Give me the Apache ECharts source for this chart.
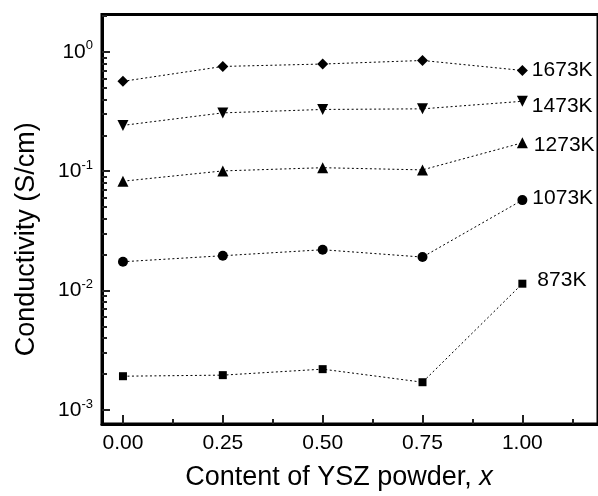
<!DOCTYPE html>
<html>
<head>
<meta charset="utf-8">
<script src="https://cdn.jsdelivr.net/npm/echarts@6/dist/echarts.min.js"></script>
<style>html,body{margin:0;padding:0;background:#fff;}#c{width:598px;height:496px;}</style>
</head>
<body>
<div id="c"></div>
<script>
// ---- data ----
const xValues = [0.00, 0.25, 0.50, 0.75, 1.00];
const s1673 = [0.566, 0.754, 0.790, 0.846, 0.698];
const s1473 = [0.242, 0.308, 0.329, 0.333, 0.385];
const s1273 = [0.0825, 0.1006, 0.107, 0.1026, 0.173];
const s1073 = [0.01746, 0.0196, 0.0220, 0.0191, 0.0573];
const s873 = [0.00192, 0.00196, 0.00220, 0.00171, 0.01143];
const seriesNames = ['1673K', '1473K', '1273K', '1073K', '873K'];
const xMajorTicks = [0, 0.25, 0.5, 0.75, 1.0];
const xMinorTicks = [0.125, 0.375, 0.625, 0.875, 1.125];
const yMajorTicks = [0.001, 0.01, 0.1, 1];
const yMinorTicks = [0.002, 0.003, 0.004, 0.005, 0.006, 0.007, 0.008, 0.009,
  0.02, 0.03, 0.04, 0.05, 0.06, 0.07, 0.08, 0.09,
  0.2, 0.3, 0.4, 0.5, 0.6, 0.7, 0.8, 0.9, 2];

// ---- styles ----
const FONT = 'Liberation Sans, Arial, sans-serif';
const TICK = '#222';
const styles = [
  { symbol: 'diamond', size: 11, rotate: 0, off: [0, 0] },
  { symbol: 'triangle', size: 11, rotate: 180, off: [0, 5] },
  { symbol: 'triangle', size: 11, rotate: 0, off: [2, 2] },
  { symbol: 'circle', size: 10, rotate: 0, off: [1, -2] },
  { symbol: 'rect', size: 8, rotate: 0, off: [7, -3] }
];
const allData = [s1673, s1473, s1273, s1073, s873];

const chart = echarts.init(document.getElementById('c'), null, { renderer: 'canvas' });
const X_MIN = -0.0525, X_MAX = 1.1894;
const Y_MIN = 7.64e-4, Y_MAX = 2.053;

const series = allData.map((vals, si) => ({
  name: seriesNames[si],
  type: 'line',
  xAxisIndex: 0,
  yAxisIndex: 0,
  symbol: styles[si].symbol,
  symbolSize: styles[si].size,
  symbolRotate: styles[si].rotate,
  itemStyle: { color: '#000' },
  lineStyle: { color: '#000', width: 1, type: [2, 2.5] },
  data: vals.map((v, i) => {
    const item = { value: [xValues[i], v] };
    if (i === vals.length - 1) {
      item.label = {
        show: true, position: 'right', distance: 4,
        formatter: seriesNames[si],
        color: '#000', fontSize: 21, fontFamily: FONT,
        offset: styles[si].off
      };
    }
    return item;
  })
}));

const supFmt = v => {
  const e = Math.round(Math.log10(v));
  return '{b|10}{s|' + (e < 0 ? '-' + (-e) : e) + '}';
};

chart.setOption({
  backgroundColor: '#fff',
  animation: false,
  grid: { left: 102, right: -2, top: 14.5, bottom: 70, show: true, borderColor: '#000', borderWidth: 3, backgroundColor: 'transparent' },
  xAxis: [
    {
      type: 'value', position: 'bottom', min: X_MIN, max: X_MAX,
      splitLine: { show: false },
      axisLine: { show: true, onZero: false, lineStyle: { color: '#000', width: 3 } },
      axisTick: { show: true, inside: true, length: 9, customValues: xMajorTicks, lineStyle: { color: TICK, width: 2 } },
      axisLabel: { customValues: xMajorTicks, formatter: v => v.toFixed(2), color: '#000', fontSize: 21, fontFamily: FONT, margin: 9 },
      name: 'Content of YSZ powder, {i|x}',
      nameLocation: 'middle', nameGap: 40,
      nameTextStyle: { color: '#000', fontSize: 27, fontFamily: FONT, padding: [0, 22, 0, 0],
        rich: { i: { fontStyle: 'italic', fontSize: 27, fontFamily: FONT, color: '#000' } } }
    },
    {
      type: 'value', position: 'bottom', min: X_MIN, max: X_MAX,
      splitLine: { show: false },
      axisLine: { show: false, onZero: false },
      axisTick: { show: true, inside: true, length: 5, customValues: xMinorTicks, lineStyle: { color: TICK, width: 2 } },
      axisLabel: { show: false }
    }
  ],
  yAxis: [
    {
      type: 'log', position: 'left', min: Y_MIN, max: Y_MAX,
      splitLine: { show: false },
      axisLine: { show: true, onZero: false, lineStyle: { color: '#000', width: 3 } },
      axisTick: { show: true, inside: true, length: 8, customValues: yMajorTicks, lineStyle: { color: TICK, width: 2 } },
      axisLabel: {
        customValues: yMajorTicks, formatter: supFmt, margin: 9,
        rich: {
          b: { fontSize: 21, fontFamily: FONT, color: '#000' },
          s: { fontSize: 13, fontFamily: FONT, color: '#000', padding: [0, 0, 12, 0] }
        }
      },
      name: 'Conductivity (S/cm)',
      nameLocation: 'middle', nameGap: 62,
      nameTextStyle: { color: '#000', fontSize: 27, fontFamily: FONT, padding: [0, 40, 0, 0] }
    },
    {
      type: 'log', position: 'left', min: Y_MIN, max: Y_MAX,
      splitLine: { show: false },
      axisLine: { show: false, onZero: false },
      axisTick: { show: true, inside: true, length: 5, customValues: yMinorTicks, lineStyle: { color: TICK, width: 2 } },
      axisLabel: { show: false }
    }
  ],
  series: series
});
</script>
</body>
</html>
